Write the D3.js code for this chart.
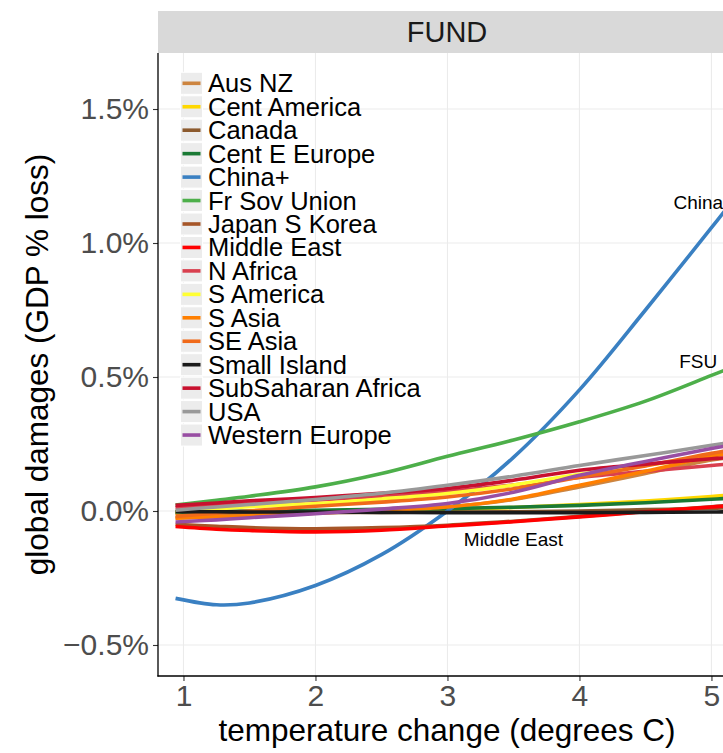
<!DOCTYPE html>
<html>
<head>
<meta charset="utf-8">
<script src="https://cdn.jsdelivr.net/npm/d3@7"></script>
<style>
  html, body { margin: 0; padding: 0; background: #fff; }
  svg { display: block; font-family: "Liberation Sans", Arial, Helvetica, sans-serif; }
</style>
</head>
<body>
<div id="chart"></div>
<script>
// ---- data (values in % of GDP) ----
const temps = [0.94, 1.25, 1.5, 2.0, 2.5, 3.0, 3.5, 4.0, 4.5, 5.0, 5.15];
const regions = ["Aus NZ", "Cent America", "Canada", "Cent E Europe", "China+", "Fr Sov Union",
  "Japan S Korea", "Middle East", "N Africa", "S America", "S Asia", "SE Asia",
  "Small Island", "SubSaharan Africa", "USA", "Western Europe"];
const colors = ["#CD8540", "#FFD800", "#8C5A2E", "#1A7A35", "#3A80C2", "#4DAF4A",
  "#A65628", "#FF0000", "#D9404F", "#FFFF33", "#FF7F00", "#F06A1A",
  "#1a1a1a", "#C8102E", "#999999", "#984EA3"];
const ausNZ        = [-0.025, -0.020, -0.015, -0.006, 0.004, 0.016, 0.043, 0.090, 0.140, 0.190, 0.200];
const centAmerica  = [-0.008, -0.006, -0.004, 0.000, 0.003, 0.006, 0.013, 0.024, 0.037, 0.054, 0.060];
const canada       = [-0.006, -0.006, -0.006, -0.006, -0.005, -0.004, -0.003, 0.000, 0.005, 0.010, 0.012];
const centEEurope  = [-0.004, -0.002, 0.000, 0.003, 0.006, 0.009, 0.014, 0.021, 0.031, 0.044, 0.048];
const chinaPlus    = [-0.326, -0.350, -0.343, -0.278, -0.163, 0.000, 0.200, 0.452, 0.750, 1.057, 1.150];
const frSovUnion   = [0.022, 0.040, 0.055, 0.090, 0.140, 0.204, 0.265, 0.333, 0.410, 0.506, 0.535];
const japanSKorea  = [-0.050, -0.057, -0.062, -0.066, -0.062, -0.053, -0.038, -0.020, -0.002, 0.016, 0.021];
const middleEast   = [-0.058, -0.068, -0.073, -0.078, -0.072, -0.056, -0.040, -0.022, -0.003, 0.015, 0.020];
const nAfrica      = [0.012, 0.020, 0.027, 0.040, 0.055, 0.073, 0.097, 0.125, 0.148, 0.170, 0.176];
const sAmerica     = [-0.003, 0.008, 0.016, 0.028, 0.045, 0.065, 0.097, 0.137, 0.170, 0.205, 0.215];
const sAsia        = [-0.027, -0.022, -0.017, -0.008, 0.002, 0.015, 0.045, 0.096, 0.148, 0.204, 0.218];
const seAsia       = [-0.020, -0.008, 0.000, 0.018, 0.033, 0.052, 0.083, 0.126, 0.168, 0.215, 0.228];
const smallIsland  = [-0.003, -0.003, -0.004, -0.004, -0.005, -0.006, -0.006, -0.006, -0.005, -0.004, -0.003];
const subSaharan   = [0.021, 0.030, 0.038, 0.050, 0.066, 0.084, 0.115, 0.152, 0.175, 0.195, 0.200];
const usa          = [0.003, 0.015, 0.024, 0.043, 0.066, 0.096, 0.130, 0.170, 0.207, 0.245, 0.257];
const westernEurope= [-0.041, -0.033, -0.025, -0.010, 0.007, 0.028, 0.070, 0.133, 0.185, 0.233, 0.246];
const seriesValues = [ausNZ, centAmerica, canada, centEEurope, chinaPlus, frSovUnion, japanSKorea,
  middleEast, nAfrica, sAmerica, sAsia, seAsia, smallIsland, subSaharan, usa, westernEurope];

const xTicks = [1, 2, 3, 4, 5];
const yTicks = [-0.5, 0.0, 0.5, 1.0, 1.5];
const yTickLabels = ["\u22120.5%", "0.0%", "0.5%", "1.0%", "1.5%"];
const annotations = [
  {text: "China", x: 4.9, y: 1.153},
  {text: "FSU", x: 4.9, y: 0.556},
  {text: "Middle East", x: 3.5, y: -0.105}
];
const panelTitle = "FUND";

// ---- layout ----
const W = 723, H = 753;
const P = {left: 158, right: 736, top: 53, bottom: 676};

const x = d3.scaleLinear().domain([0.807, 5.186]).range([P.left, P.right]);
const y = d3.scaleLinear().domain([-0.6157, 1.709]).range([P.bottom, P.top]);

const svg = d3.select("#chart").append("svg").attr("width", W).attr("height", H);

svg.append("defs").append("clipPath").attr("id", "clip")
  .append("rect").attr("x", P.left).attr("y", P.top)
  .attr("width", P.right - P.left).attr("height", P.bottom - P.top);

// strip
svg.append("rect").attr("x", P.left).attr("y", 11).attr("width", P.right - P.left).attr("height", P.top - 11)
  .attr("fill", "#d9d9d9");
svg.append("text").attr("x", (P.left + P.right) / 2).attr("y", 32)
  .attr("text-anchor", "middle").attr("dominant-baseline", "central")
  .attr("font-size", 29).attr("fill", "#1a1a1a").text(panelTitle);

// grid
const grid = svg.append("g");
grid.selectAll(".gx").data(xTicks).join("line")
  .attr("x1", d => x(d)).attr("x2", d => x(d)).attr("y1", P.top).attr("y2", P.bottom)
  .attr("stroke", "#ebebeb").attr("stroke-width", 1.1);
grid.selectAll(".gy").data(yTicks).join("line")
  .attr("x1", P.left).attr("x2", P.right).attr("y1", d => y(d)).attr("y2", d => y(d))
  .attr("stroke", "#ebebeb").attr("stroke-width", 1.1);

// lines
const line = d3.line().x(d => x(d[0])).y(d => y(d[1])).curve(d3.curveCatmullRom.alpha(0.5));
const lines = svg.append("g").attr("clip-path", "url(#clip)");
regions.forEach((r, i) => {
  const pts = temps.map((t, j) => [t, seriesValues[i][j]]);
  lines.append("path").attr("d", line(pts)).attr("fill", "none")
    .attr("stroke", colors[i]).attr("stroke-width", 3.6)
    .attr("stroke-linecap", "butt").attr("stroke-linejoin", "round");
});

// annotations
svg.append("g").selectAll("text").data(annotations).join("text")
  .attr("x", d => x(d.x)).attr("y", d => y(d.y))
  .attr("text-anchor", "middle").attr("dominant-baseline", "central")
  .attr("font-size", 19).attr("fill", "#000").text(d => d.text);

// axes
const xAxis = d3.axisBottom(x).tickValues(xTicks).tickSize(5).tickPadding(4).tickFormat(d3.format("d"));
const gx = svg.append("g").attr("transform", `translate(0,${P.bottom})`).call(xAxis);
gx.select(".domain").remove();
gx.selectAll(".tick line").attr("stroke", "#333").attr("stroke-width", 1.1);
gx.selectAll(".tick text").attr("font-size", 30).attr("fill", "#4d4d4d")
  .attr("font-family", "Liberation Sans, Arial, sans-serif");

const yAxis = d3.axisLeft(y).tickValues(yTicks).tickSize(5).tickPadding(4)
  .tickFormat((d, i) => yTickLabels[i]);
const gy = svg.append("g").attr("transform", `translate(${P.left},0)`).call(yAxis);
gy.select(".domain").remove();
gy.selectAll(".tick line").attr("stroke", "#333").attr("stroke-width", 1.1);
gy.selectAll(".tick text").attr("font-size", 30).attr("fill", "#4d4d4d")
  .attr("font-family", "Liberation Sans, Arial, sans-serif");

svg.append("line").attr("x1", P.left).attr("x2", P.left).attr("y1", P.top).attr("y2", P.bottom + 0.6)
  .attr("stroke", "#000").attr("stroke-width", 1.3);
svg.append("line").attr("x1", P.left - 0.6).attr("x2", P.right).attr("y1", P.bottom).attr("y2", P.bottom)
  .attr("stroke", "#000").attr("stroke-width", 1.3);

// axis titles
svg.append("text").attr("x", (P.left + P.right) / 2).attr("y", 741)
  .attr("text-anchor", "middle").attr("font-size", 31.5).attr("fill", "#000")
  .text("temperature change (degrees C)");
svg.append("text").attr("transform", `translate(48,${(P.top + P.bottom) / 2}) rotate(-90)`)
  .attr("text-anchor", "middle").attr("font-size", 31.5).attr("fill", "#000")
  .text("global damages (GDP % loss)");

// legend
const lg = svg.append("g");
const rowH = 23.45, ly0 = 83.3;
regions.forEach((r, i) => {
  const cy = ly0 + i * rowH;
  lg.append("rect").attr("x", 180.5).attr("y", cy - 11).attr("width", 22).attr("height", 22)
    .attr("fill", "#ececec").attr("stroke", "#fff").attr("stroke-width", 1);
  lg.append("line").attr("x1", 182.5).attr("x2", 200.5).attr("y1", cy).attr("y2", cy)
    .attr("stroke", colors[i]).attr("stroke-width", 3.6);
  lg.append("text").attr("x", 208).attr("y", cy).attr("dominant-baseline", "central")
    .attr("font-size", 25.5).attr("fill", "#000").text(r);
});
</script>
</body>
</html>
